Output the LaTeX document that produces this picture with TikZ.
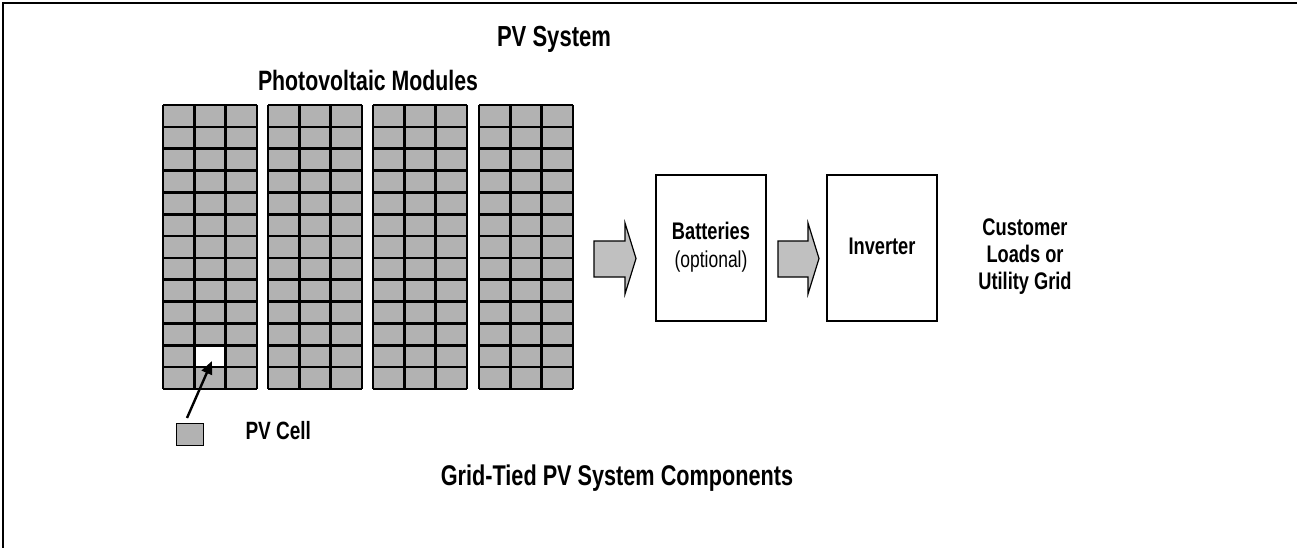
\documentclass[tikz,border=0pt]{standalone}
\usepackage{fontspec}
\setmainfont{Liberation Sans}[FakeStretch=0.76]
\usetikzlibrary{arrows.meta,calc}
\definecolor{cellgray}{HTML}{B2B2B2}
\definecolor{arrowgray}{HTML}{C0C0C0}
\begin{document}
\begin{tikzpicture}[x=1pt,y=-1pt,
  gridline/.style={line width=2.6pt},
  boxnode/.style={draw,line width=1.8pt,minimum width=110pt,minimum height=146pt,inner sep=0pt},
  bigarrow/.style={draw,line width=1.2pt,fill=arrowgray,line join=miter},
  ttl/.style={anchor=base,font=\bfseries\fontsize{28.5}{32}\selectfont},
  lbl/.style={anchor=base,font=\bfseries\fontsize{24}{28}\selectfont},
  pointer/.style={line width=2.4pt,-{Triangle[length=13pt,width=11pt]}}]
\useasboundingbox (0,0) rectangle (1297,548);
% frame (only top and left edges visible)
\draw[line width=1.2pt] (3,548) -- (3,3) -- (1297,3);
% titles
\node[ttl,font=\bfseries\fontsize{29}{32}\selectfont] (title) at (554,47) {PV System};
\node[ttl,font=\bfseries\fontsize{28}{32}\selectfont] (modtitle) at (368,91) {Photovoltaic Modules};
\node[ttl] (caption) at (617,485) {Grid-Tied PV System Components};
% modules
\foreach \x in {163,268,373,479}{
  \fill[cellgray] (\x,105) rectangle ++(94,284);
  \foreach \i in {0,...,13}{\draw[gridline] (\x,105+\i*21.846) -- ++(94,0);}
  \foreach \j in {0,...,3}{\draw[gridline] (\x+\j*31.333,105) -- ++(0,284);}
}
% white cell
\node[fill=white,draw,line width=2.6pt,minimum width=31.33pt,minimum height=21.85pt,inner sep=0pt]
  (whitecell) at (210,356.2) {};
% single PV cell
\node[draw,line width=1.8pt,fill=cellgray,minimum width=27pt,minimum height=22pt,inner sep=0pt]
  (pvcell) at (190,434.5) {};
\node[lbl,anchor=base west,font=\bfseries\fontsize{25}{28}\selectfont] (pvlabel) at (242,439) {PV Cell};
\coordinate (ptrstart) at (187,418);
\coordinate (ptrend) at (212,361);
\draw[pointer] (ptrstart) -- (ptrend);
% boxes
\node[boxnode] (batt) at (711,248) {};
\node[boxnode] (inv) at (882,248) {};
\node[lbl] (battlabel) at (711,239) {Batteries};
\node[anchor=base,font=\fontsize{23}{27}\selectfont] (opt) at (711,267) {(optional)};
\node[lbl] (invlabel) at (882,254) {Inverter};
\node[lbl] (cust1) at (1025,235) {Customer};
\node[lbl] (cust2) at (1025,262) {Loads or};
\node[lbl] (cust3) at (1025,289) {Utility Grid};
% big arrows
\draw[bigarrow] (594,241) -- (625,241) -- (625,223) -- (636,258.5) -- (625,294) -- (625,277) -- (594,277) -- cycle;
\draw[bigarrow] (778,241) -- (808,241) -- (808,223) -- (819,258.5) -- (808,294) -- (808,277) -- (778,277) -- cycle;
\end{tikzpicture}
\end{document}
